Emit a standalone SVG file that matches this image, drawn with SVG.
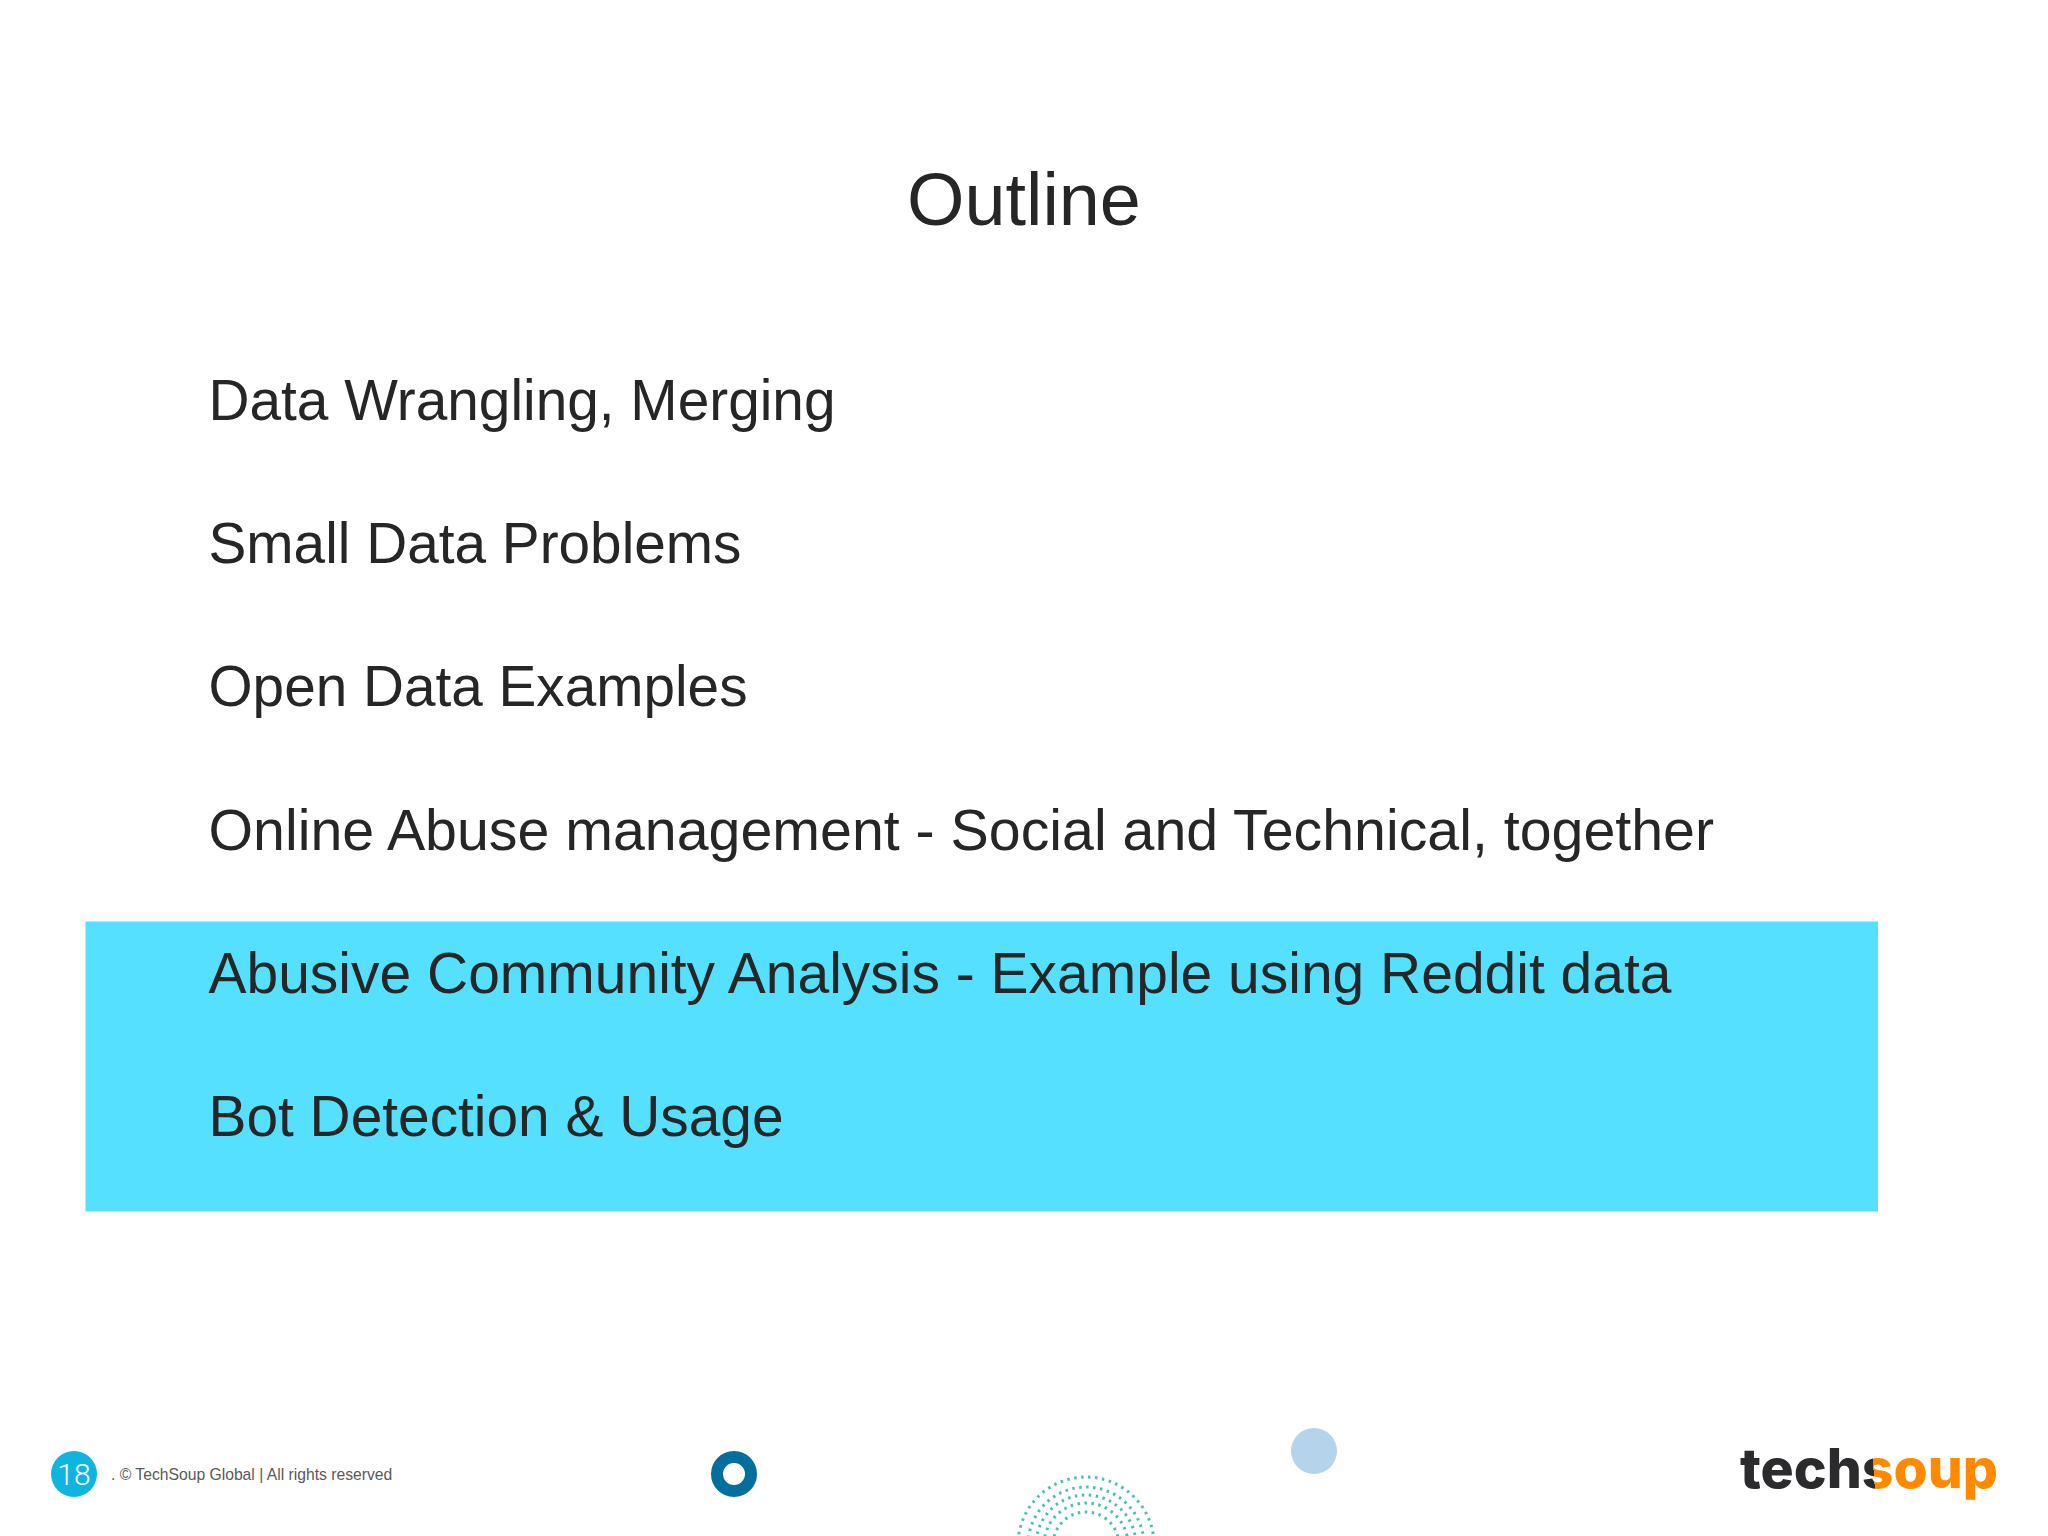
<svg xmlns="http://www.w3.org/2000/svg" width="2048" height="1536" viewBox="0 0 2048 1536">
<style>
text{font-family:"Liberation Sans",Arial,sans-serif}
.b{font-size:57.3px;fill:#262626}
.a{fill:none;stroke:#2fb3a8;stroke-width:3;stroke-dasharray:2.5 4.5;opacity:.85}
#logo{font-family:Inter,sans-serif;font-weight:800}
#pg{font-family:Roboto,sans-serif;font-weight:300}
</style>
<defs><linearGradient id="sg" gradientUnits="userSpaceOnUse" x1="1741" y1="1488" x2="1997" y2="1470">
<stop offset="0.52" stop-color="#2b2b2d"/><stop offset="0.52" stop-color="#ff8a00"/></linearGradient></defs>
<rect width="2048" height="1536" fill="#fff"/>
<rect id="highlight" x="85.5" y="921.5" width="1792.5" height="290" fill="#55e0ff"/>
<text id="title" x="1024" y="225" text-anchor="middle" font-size="73.8" fill="#262626">Outline</text>
<g id="items">
<text class="b" x="208.5" y="419.5" textLength="627" lengthAdjust="spacingAndGlyphs">Data Wrangling, Merging</text>
<text class="b" x="208.5" y="562.5" textLength="533" lengthAdjust="spacingAndGlyphs">Small Data Problems</text>
<text class="b" x="208.5" y="706" textLength="539" lengthAdjust="spacingAndGlyphs">Open Data Examples</text>
<text class="b" x="208.5" y="849.5">Online Abuse management - Social and Technical, together</text>
<text class="b" x="208.5" y="993" textLength="1463" lengthAdjust="spacingAndGlyphs">Abusive Community Analysis - Example using Reddit data</text>
<text class="b" x="208.5" y="1136" textLength="575" lengthAdjust="spacingAndGlyphs">Bot Detection &amp; Usage</text>
</g>
<g id="footer">
<circle cx="74" cy="1474" r="23" fill="#0fb5de"/>
<text id="pg" x="74" y="1485" text-anchor="middle" font-size="30" fill="#fff">18</text>
<text x="111" y="1479.5" font-size="15.7" fill="#595959">. © TechSoup Global | All rights reserved</text>
</g>
<g id="decor">
<circle cx="734" cy="1474" r="17" fill="#fff" stroke="#046f9c" stroke-width="12"/>
<circle cx="1314" cy="1451" r="23" fill="#b5d3ea"/>
<g class="arcs">
<circle class="a" cx="1086" cy="1545" r="68"/>
<circle class="a" cx="1086" cy="1545" r="58"/>
<circle class="a" cx="1086" cy="1545" r="50"/>
<circle class="a" cx="1086" cy="1545" r="42"/>
<circle class="a" cx="1086" cy="1545" r="33"/>
</g>
</g>
<text id="logo" x="1740" y="1488" font-size="55" textLength="258" lengthAdjust="spacingAndGlyphs" fill="url(#sg)">techsoup</text>
</svg>
